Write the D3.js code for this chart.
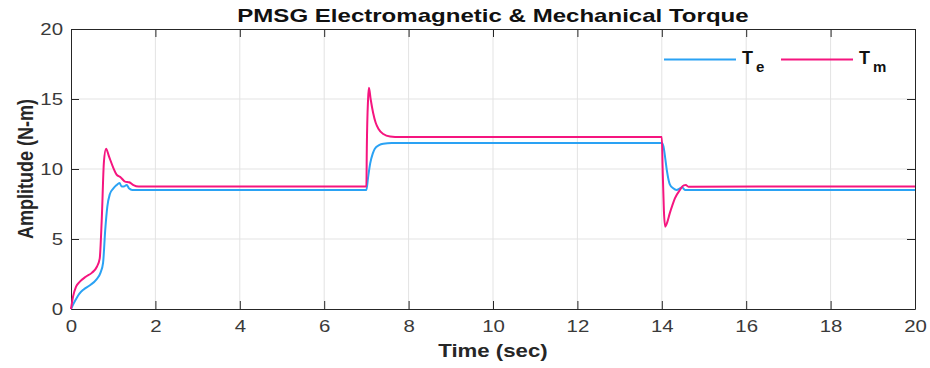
<!DOCTYPE html>
<html>
<head>
<meta charset="utf-8">
<script src="https://cdn.jsdelivr.net/npm/d3@7"></script>
<style>
  body { margin: 0; background: #fff; }
  svg { display: block; font-family: "Liberation Sans", Arial, sans-serif; }
</style>
</head>
<body>
<div id="chart"></div>
<script>
// Data (time in s, torque in N-m)
var teData = [
  [0, 0], [0.1, 0.6], [0.2, 1.1], [0.3, 1.4], [0.45, 1.7], [0.6, 2.1], [0.7, 2.6],
  [0.76, 3.3], [0.81, 5.6], [0.86, 7.3], [0.92, 8.2], [1.0, 8.6], [1.08, 8.85],
  [1.15, 9.0], [1.2, 8.75], [1.25, 8.75], [1.32, 8.85], [1.38, 8.6], [1.45, 8.5],
  [7.0, 8.5], [7.04, 9.4], [7.09, 10.4], [7.15, 11.1], [7.2, 11.45], [7.3, 11.7],
  [7.4, 11.8], [7.6, 11.85], [14.0, 11.85], [14.04, 11.6], [14.08, 10.8], [14.12, 9.9],
  [14.19, 8.9], [14.27, 8.62], [14.35, 8.5], [14.42, 8.6], [14.48, 8.7], [14.55, 8.5],
  [20, 8.5]
];
var tmData = [
  [0, 0], [0.05, 0.9], [0.12, 1.6], [0.21, 1.95], [0.35, 2.3], [0.5, 2.6], [0.61, 3.0],
  [0.68, 3.6], [0.73, 6.5], [0.78, 10.5], [0.83, 11.45], [0.9, 10.9], [1.0, 10.1],
  [1.08, 9.6], [1.18, 9.4], [1.28, 9.1], [1.38, 9.05], [1.48, 8.85], [1.6, 8.75],
  [7.0, 8.75], [7.01, 11.5], [7.04, 15.0], [7.06, 15.8], [7.1, 15.0], [7.16, 14.0],
  [7.22, 13.3], [7.28, 12.9], [7.4, 12.5], [7.56, 12.32], [7.8, 12.28], [14.0, 12.28],
  [14.02, 10.0], [14.05, 7.0], [14.08, 5.88], [14.13, 6.2], [14.19, 6.85], [14.25, 7.4],
  [14.31, 7.9], [14.43, 8.5], [14.52, 8.83], [14.57, 8.85], [14.63, 8.74], [20, 8.75]
];
var xTicks = [0, 2, 4, 6, 8, 10, 12, 14, 16, 18, 20];
var yTicks = [0, 5, 10, 15, 20];

var blue = "#2aa2f4", pink = "#f5157f";

var margin = { top: 29, right: 15, bottom: 59, left: 71 },
    width = 930 - margin.left - margin.right,
    height = 368 - margin.top - margin.bottom;

var x = d3.scaleLinear().domain([0, 20]).range([0, width]),
    y = d3.scaleLinear().domain([0, 20]).range([height, 0]);

var svg = d3.select("#chart").append("svg")
    .attr("width", 930)
    .attr("height", 368);

// the reference text is a bit wider than plain Arial, stretch it
function stretch(sel, f) {
  sel.each(function() {
    var w = this.getComputedTextLength();
    d3.select(this).attr("textLength", w * f).attr("lengthAdjust", "spacingAndGlyphs");
  });
}

var g = svg.append("g")
    .attr("transform", "translate(" + margin.left + "," + margin.top + ")");

// grid
g.append("g")
  .selectAll("line.gx").data(xTicks.slice(1, -1)).enter().append("line")
    .attr("x1", function(d) { return x(d); }).attr("x2", function(d) { return x(d); })
    .attr("y1", 0).attr("y2", height)
    .attr("stroke", "#e3e3e3").attr("stroke-width", 1);
g.append("g")
  .selectAll("line.gy").data(yTicks.slice(1, -1)).enter().append("line")
    .attr("y1", function(d) { return y(d); }).attr("y2", function(d) { return y(d); })
    .attr("x1", 0).attr("x2", width)
    .attr("stroke", "#e3e3e3").attr("stroke-width", 1);

// axes (ticks inward, box all round)
var axisColor = "#262626";
function styleAxis(sel) {
  sel.select(".domain").attr("stroke", axisColor);
  sel.selectAll(".tick line").attr("stroke", axisColor);
  sel.selectAll(".tick text").attr("fill", "#3a3a3a").attr("font-size", "17px")
    .call(stretch, 1.2);
}

g.append("g")
  .attr("transform", "translate(0," + height + ")")
  .call(d3.axisBottom(x).tickValues(xTicks).tickSize(-8).tickSizeOuter(0).tickPadding(11))
  .call(styleAxis);

g.append("g")
  .call(d3.axisTop(x).tickValues(xTicks).tickSize(-8).tickSizeOuter(0).tickFormat(""))
  .call(styleAxis);

g.append("g")
  .call(d3.axisLeft(y).tickValues(yTicks).tickSize(-8).tickSizeOuter(0).tickPadding(8))
  .call(styleAxis);

g.append("g")
  .attr("transform", "translate(" + width + ",0)")
  .call(d3.axisRight(y).tickValues(yTicks).tickSize(-8).tickSizeOuter(0).tickFormat(""))
  .call(styleAxis);

// lines
var line = d3.line()
  .x(function(d) { return x(d[0]); })
  .y(function(d) { return y(d[1]); })
  .curve(d3.curveMonotoneX);

g.append("path").datum(teData)
  .attr("fill", "none").attr("stroke", blue).attr("stroke-width", 2)
  .attr("d", line);

g.append("path").datum(tmData)
  .attr("fill", "none").attr("stroke", pink).attr("stroke-width", 2)
  .attr("d", line);

// legend
var legend = g.append("g").attr("transform", "translate(" + (width - 251) + ",30.5)");
var items = [
  { color: blue, main: "T", sub: "e", x: 0 },
  { color: pink, main: "T", sub: "m", x: 117 }
];
items.forEach(function(it) {
  legend.append("line")
    .attr("x1", it.x).attr("x2", it.x + 72)
    .attr("y1", 0).attr("y2", 0)
    .attr("stroke", it.color).attr("stroke-width", 2);
  var t = legend.append("text")
    .attr("x", it.x + 78).attr("y", 4)
    .attr("font-size", "18px").attr("font-weight", "bold").attr("fill", "#111");
  t.append("tspan").text(it.main);
  t.append("tspan").attr("dx", 3).attr("dy", 8).attr("font-size", "15px").text(it.sub);
});

// title and labels
svg.append("text")
  .attr("x", margin.left + width / 2).attr("y", 22)
  .attr("text-anchor", "middle")
  .attr("font-size", "18.5px").attr("font-weight", "bold").attr("fill", "#111")
  .text("PMSG Electromagnetic & Mechanical Torque")
  .call(stretch, 1.3);

svg.append("text")
  .attr("x", margin.left + width / 2).attr("y", 357)
  .attr("text-anchor", "middle")
  .attr("font-size", "18.5px").attr("font-weight", "bold").attr("fill", "#262626")
  .text("Time (sec)")
  .call(stretch, 1.2);

svg.append("text")
  .attr("transform", "translate(32.5," + (margin.top + height / 2) + ") scale(1.25,1) rotate(-90)")
  .attr("text-anchor", "middle")
  .attr("font-size", "18px").attr("font-weight", "bold").attr("fill", "#262626")
  .text("Amplitude (N-m)");
</script>
</body>
</html>
